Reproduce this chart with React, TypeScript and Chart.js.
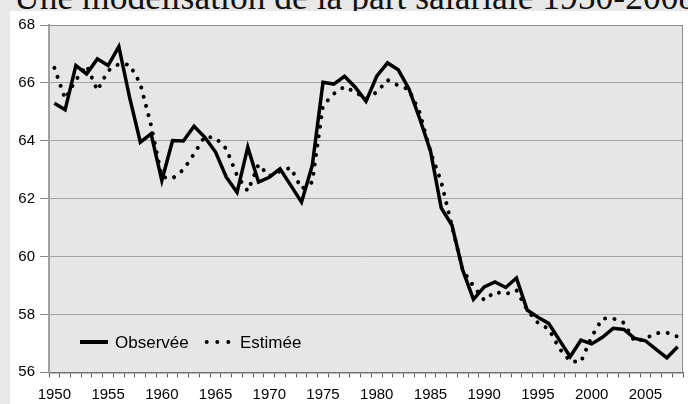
import React, { useEffect, useRef } from 'react';
import { Chart, registerables } from 'chart.js';

Chart.register(...registerables);

const TITLE = 'Une modélisation de la part salariale 1950-2008';

const years = [
  '1950', '1951', '1952', '1953', '1954', '1955', '1956', '1957', '1958', '1959',
  '1960', '1961', '1962', '1963', '1964', '1965', '1966', '1967', '1968', '1969',
  '1970', '1971', '1972', '1973', '1974', '1975', '1976', '1977', '1978', '1979',
  '1980', '1981', '1982', '1983', '1984', '1985', '1986', '1987', '1988', '1989',
  '1990', '1991', '1992', '1993', '1994', '1995', '1996', '1997', '1998', '1999',
  '2000', '2001', '2002', '2003', '2004', '2005', '2006', '2007', '2008',
];

const observee = [
  65.3, 65.07, 66.6, 66.31, 66.83, 66.6, 67.25, 65.5, 63.95, 64.24,
  62.63, 64.01, 63.99, 64.5, 64.12, 63.61, 62.74, 62.22, 63.78, 62.57,
  62.74, 63.03, 62.46, 61.88, 63.15, 66.02, 65.96, 66.23, 65.85, 65.36,
  66.23, 66.69, 66.45, 65.79, 64.76, 63.65, 61.68, 61.08, 59.53, 58.52,
  58.95, 59.12, 58.93, 59.26, 58.15, 57.9, 57.69, 57.11, 56.54, 57.11,
  56.98, 57.21, 57.52, 57.48, 57.17, 57.09, 56.79, 56.5, 56.88,
];

const estimee = [
  66.52, 65.45, 66.1, 66.6, 65.74, 66.42, 66.65, 66.63, 65.97, 64.53,
  62.75, 62.7, 63.0, 63.55, 64.15, 64.1, 63.72, 62.8, 62.26, 63.18,
  62.78, 62.95, 63.07, 62.34, 62.57, 65.22, 65.62, 65.87, 65.68, 65.45,
  65.68, 66.1, 65.91, 65.77, 64.97, 63.62, 62.58, 61.05, 59.53, 58.98,
  58.49, 58.78, 58.7, 58.84, 58.15, 57.71, 57.5, 56.82, 56.38, 56.36,
  57.23, 57.86, 57.86, 57.71, 57.06, 57.17, 57.35, 57.37, 57.23,
];

const xTickLabels = ['1950', '1955', '1960', '1965', '1970', '1975', '1980', '1985', '1990', '1995', '2000', '2005'];
const yMin = 56;
const yMax = 68;
const yStep = 2;

const seriesNames = ['Observée', 'Estimée'];

const FONT = "'Liberation Sans', Arial, sans-serif";

const plotDecor = {
  id: 'plotDecor',
  beforeDraw(chart: any) {
    const { ctx, chartArea: a } = chart;
    ctx.save();
    ctx.fillStyle = '#e6e6e6';
    ctx.fillRect(a.left, a.top, a.right - a.left, a.bottom - a.top);
    ctx.restore();
  },
  afterDraw(chart: any) {
    const { ctx, chartArea: a } = chart;
    ctx.save();
    // top & right border
    ctx.strokeStyle = '#8a8a8a';
    ctx.lineWidth = 1;
    ctx.beginPath();
    ctx.moveTo(a.left, a.top + 0.5);
    ctx.lineTo(a.right - 0.5, a.top + 0.5);
    ctx.lineTo(a.right - 0.5, a.bottom);
    ctx.stroke();

    // legend
    const ds = chart.data.datasets;
    const ly = a.bottom - 30.3;
    const lx = a.left;
    ctx.strokeStyle = '#000';
    ctx.lineWidth = 4;
    ctx.beginPath();
    ctx.moveTo(lx + 31, ly);
    ctx.lineTo(lx + 59, ly);
    ctx.stroke();
    ctx.fillStyle = '#000';
    ctx.font = `17px ${FONT}`;
    ctx.textBaseline = 'middle';
    ctx.textAlign = 'left';
    ctx.fillText(ds[0].label, lx + 66, ly + 1);
    [157.7, 168.3, 179.3].forEach((dx) => {
      ctx.beginPath();
      ctx.arc(lx + dx, ly, 2, 0, Math.PI * 2);
      ctx.fill();
    });
    ctx.fillText(ds[1].label, lx + 191, ly + 1);
    ctx.restore();
  },
};

export default function App() {
  const ref = useRef<HTMLCanvasElement | null>(null);

  useEffect(() => {
    if (!ref.current) return;
    const chart = new Chart(ref.current, {
      type: 'line',
      data: {
        labels: years,
        datasets: [
          {
            label: seriesNames[0],
            data: observee,
            borderColor: '#000',
            borderWidth: 3.5,
            pointRadius: 0,
            tension: 0,
            fill: false,
            borderJoinStyle: 'miter',
          },
          {
            label: seriesNames[1],
            data: estimee,
            borderColor: '#000',
            borderWidth: 4,
            borderDash: [0.01, 9.5],
            borderCapStyle: 'round',
            pointRadius: 0,
            tension: 0,
            fill: false,
          },
        ],
      },
      options: {
        responsive: false,
        animation: false,
        devicePixelRatio: 1,
        layout: { padding: { top: 13.3, right: 5, left: 0, bottom: 0 } },
        plugins: {
          legend: { display: false },
          title: { display: false },
          tooltip: { enabled: false },
        },
        scales: {
          x: {
            type: 'category',
            offset: true,
            afterFit(scale: any) {
              scale.height = 31.7;
            },
            grid: {
              display: true,
              offset: true,
              drawOnChartArea: false,
              drawTicks: true,
              tickLength: 5,
              tickColor: '#555',
              tickWidth: 1,
            },
            border: { display: true, color: '#707070', width: 1.5 },
            ticks: {
              autoSkip: false,
              maxRotation: 0,
              minRotation: 0,
              padding: 9,
              color: '#000',
              font: { family: FONT, size: 15 },
              callback(_v: any, i: number) {
                const y = years[i];
                return xTickLabels.includes(y) ? y : '';
              },
            },
          },
          y: {
            min: yMin,
            max: yMax,
            afterFit(scale: any) {
              scale.width = 39;
            },
            grid: {
              color: '#a3a3a3',
              lineWidth: 1,
              borderDash: [2, 2],
              drawTicks: true,
              tickLength: 9,
              tickColor: '#8a8a8a',
              tickBorderDash: [],
              tickWidth: 1,
            },
            border: { display: true, color: '#a0a0a0', width: 2 },
            ticks: {
              stepSize: yStep,
              padding: 5,
              color: '#000',
              font: { family: FONT, size: 15 },
            },
          },
        },
      },
      plugins: [plotDecor],
    } as any);
    return () => chart.destroy();
  }, []);

  return (
    <div
      style={{
        position: 'fixed',
        left: 0,
        top: 0,
        width: 688,
        height: 404,
        background: '#e8e8e8',
        overflow: 'hidden',
      }}
    >
      <div
        style={{
          position: 'absolute',
          left: 14,
          top: -20.2,
          fontFamily: "'Liberation Serif', 'Times New Roman', serif",
          fontSize: 35.5,
          lineHeight: '35.5px',
          whiteSpace: 'nowrap',
          color: '#111',
        }}
      >
        {TITLE}
      </div>
      <div
        style={{
          position: 'absolute',
          left: 10,
          top: 11,
          width: 678,
          height: 393,
          background: '#fff',
        }}
      >
        <canvas ref={ref} width={678} height={393} style={{ display: 'block' }} />
      </div>
    </div>
  );
}
